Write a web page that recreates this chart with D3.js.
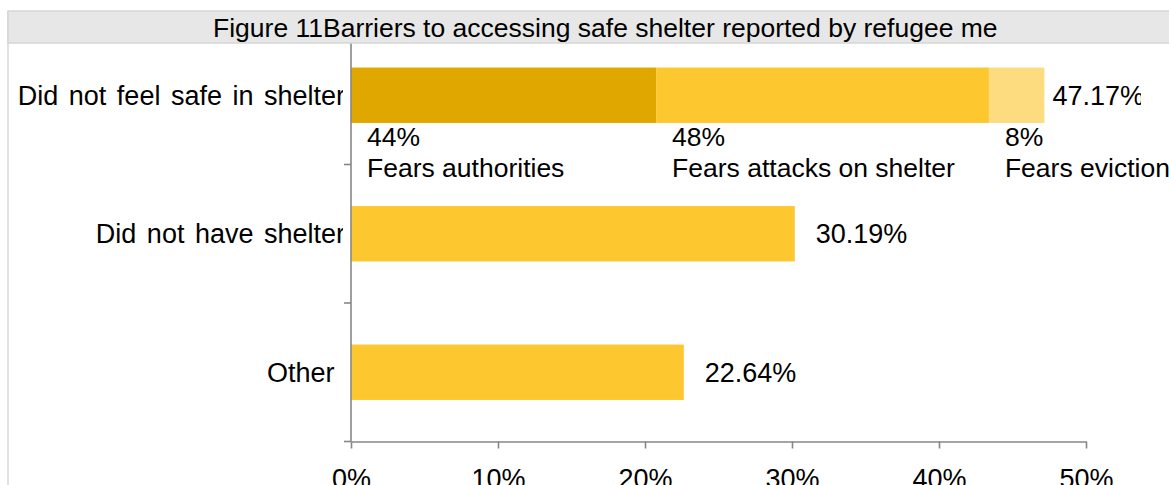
<!DOCTYPE html>
<html>
<head>
<meta charset="utf-8">
<script src="https://cdn.jsdelivr.net/npm/d3@7"></script>
<style>
  html, body { margin: 0; padding: 0; background: #fff; }
  svg { display: block; font-family: "Liberation Sans", Arial, sans-serif; }
  text { white-space: pre; }
</style>
</head>
<body>
<svg id="chart" width="1169" height="485"></svg>
<script>
// Barriers to accessing safe shelter (share of respondents, %)
const categories = ["Did not feel safe in shelter", "Did not have shelter", "Other "];
const values = [47.17, 30.19, 22.64];

// Breakdown of "Did not feel safe in shelter" (share of that bar, %)
const segmentLabels = ["Fears authorities", "Fears attacks on shelter", "Fears eviction"];
const segmentShares = [44, 48, 8];
const segmentColors = ["#DFA700", "#FDC72F", "#FDDC80"];

const xTicks = [0, 10, 20, 30, 40, 50];
const titleText = "Figure 11Barriers to accessing safe shelter reported by refugee men";

const W = 1169, H = 485;
const plot = { left: 351, right: 1086, top: 26, bottom: 441.5 };
const fontSize = 27;
const segFontSize = 26.5;
const axisColor = "#878787";

const svg = d3.select("#chart");
const defs = svg.append("defs");

defs.append("clipPath").attr("id", "clipCat")
  .append("rect").attr("x", 0).attr("y", 0).attr("width", 343).attr("height", H);
defs.append("clipPath").attr("id", "clipVal")
  .append("rect").attr("x", 0).attr("y", 0).attr("width", 1141).attr("height", H);
defs.append("clipPath").attr("id", "clipTitle")
  .append("rect").attr("x", 0).attr("y", 0).attr("width", 997).attr("height", H);

const x = d3.scaleLinear().domain([0, 50]).range([plot.left, plot.right]);
const y = d3.scaleBand().domain(categories).range([plot.top, plot.bottom]).padding(0);
const barH = y.bandwidth() * 0.4;
const barY = c => y(c) + (y.bandwidth() - barH) / 2;

// Left frame line
svg.append("line")
  .attr("x1", 8).attr("x2", 8).attr("y1", 11).attr("y2", H)
  .attr("stroke", "#d9d9d9").attr("stroke-width", 1.5);

// Bars: the first category is split into its reported reasons
const total0 = values[0];
let acc = 0;
const segments = segmentShares.map((s, i) => {
  const v = total0 * s / 100;
  const seg = { start: acc, end: acc + v, share: s, label: segmentLabels[i], color: segmentColors[i] };
  acc += v;
  return seg;
});

const gBars = svg.append("g");
gBars.selectAll("rect.seg").data(segments).join("rect")
  .attr("class", "seg")
  .attr("x", d => x(d.start))
  .attr("width", d => x(d.end) - x(d.start))
  .attr("y", barY(categories[0]))
  .attr("height", barH)
  .attr("fill", d => d.color);

gBars.selectAll("rect.bar").data(categories.slice(1).map((c, i) => ({ c, v: values[i + 1] }))).join("rect")
  .attr("class", "bar")
  .attr("x", x(0))
  .attr("width", d => x(d.v) - x(0))
  .attr("y", d => barY(d.c))
  .attr("height", barH)
  .attr("fill", segmentColors[1]);

// Segment labels below the split bar
const segLbl = svg.append("g").attr("font-size", segFontSize).attr("fill", "#000");
const segBase = barY(categories[0]) + barH;
segLbl.selectAll("text.pct").data(segments).join("text")
  .attr("class", "pct")
  .attr("x", d => x(d.start) + 16)
  .attr("y", segBase + 23)
  .text(d => d.share + "%");
segLbl.selectAll("text.name").data(segments).join("text")
  .attr("class", "name")
  .attr("x", d => x(d.start) + 16)
  .attr("y", segBase + 54)
  .text(d => d.label);

// Value labels at bar ends
svg.append("g").attr("clip-path", "url(#clipVal)")
  .selectAll("text").data(categories.map((c, i) => ({ c, v: values[i], i }))).join("text")
  .attr("x", d => x(d.v) + (d.i === 0 ? 8 : 21))
  .attr("y", d => y(d.c) + y.bandwidth() / 2)
  .attr("dy", "0.36em")
  .attr("font-size", fontSize)
  .attr("fill", "#000")
  .text(d => d.v.toFixed(2) + "%");

// Category axis
const gY = svg.append("g");
gY.append("line")
  .attr("x1", plot.left).attr("x2", plot.left)
  .attr("y1", plot.top).attr("y2", plot.bottom)
  .attr("stroke", axisColor).attr("stroke-width", 1.6);
const boundaries = categories.map(c => y(c)).slice(1).concat([y.range()[1]]);
gY.selectAll("line.tick").data(boundaries).join("line")
  .attr("class", "tick")
  .attr("x1", plot.left - 7).attr("x2", plot.left)
  .attr("y1", d => d).attr("y2", d => d)
  .attr("stroke", axisColor).attr("stroke-width", 1.6);
svg.append("g").attr("clip-path", "url(#clipCat)")
  .selectAll("text").data(categories).join("text")
  .attr("x", 345)
  .attr("y", c => y(c) + y.bandwidth() / 2)
  .attr("dy", "0.36em")
  .attr("text-anchor", "end")
  .attr("font-size", fontSize)
  .attr("word-spacing", 3)
  .attr("fill", "#000")
  .text(c => c);

// Value axis
const gX = svg.append("g")
  .attr("transform", `translate(0,${plot.bottom})`)
  .call(d3.axisBottom(x).tickValues(xTicks).tickFormat(d => d + "%")
    .tickSizeInner(7).tickSizeOuter(0).tickPadding(20));
gX.select(".domain").attr("stroke", axisColor).attr("stroke-width", 1.6);
gX.selectAll(".tick line").attr("stroke", axisColor).attr("stroke-width", 1.6);
gX.selectAll(".tick text")
  .attr("font-size", fontSize)
  .attr("font-family", "Liberation Sans, Arial, sans-serif")
  .attr("fill", "#000");

// Title band
svg.append("rect")
  .attr("x", 8).attr("y", 11).attr("width", W).attr("height", 32)
  .attr("fill", "#e7e7e7").attr("stroke", "#d6d6d6").attr("stroke-width", 1.5);
svg.append("text")
  .attr("clip-path", "url(#clipTitle)")
  .attr("x", 213).attr("y", 37)
  .attr("font-size", 26.5)
  .attr("fill", "#000")
  .text(titleText);
</script>
</body>
</html>
